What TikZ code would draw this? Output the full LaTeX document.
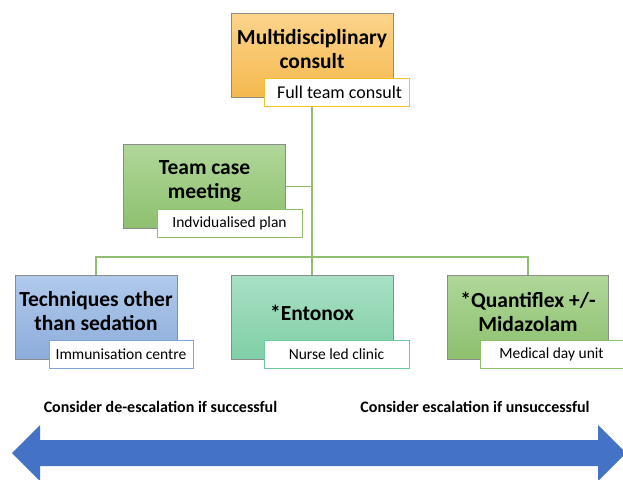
\documentclass[tikz,border=0pt]{standalone}
\usepackage{fontspec}
\setmainfont{Carlito}
\definecolor{orangetop}{HTML}{FCD48C}
\definecolor{orangebot}{HTML}{F5B94E}
\definecolor{greentop}{HTML}{B0D79A}
\definecolor{greenbot}{HTML}{8DC06E}
\definecolor{bluetop}{HTML}{B1CAEC}
\definecolor{bluebot}{HTML}{8DACDA}
\definecolor{tealtop}{HTML}{A8E0C5}
\definecolor{tealbot}{HTML}{80CFA6}
\definecolor{yellowline}{HTML}{F2C12E}
\definecolor{greenline}{HTML}{8DC06B}
\definecolor{blueline}{HTML}{7EA6D6}
\definecolor{tealline}{HTML}{6CCB9E}
\definecolor{linkgreen}{HTML}{8FBF6C}
\definecolor{arrowblue}{HTML}{4472C4}
\begin{document}
\begin{tikzpicture}[x=1pt,y=-1pt,
    box/.style={draw=black!45, minimum width=162pt, minimum height=84pt, inner sep=0pt},
    title/.style={font=\fontsize{21.5}{24}\selectfont\bfseries, align=center},
    tag/.style={fill=white, line width=1pt, minimum width=145pt, minimum height=28pt,
      inner sep=0pt, font=\fontsize{15.5}{18}\selectfont},
    note/.style={font=\fontsize{16}{18}\selectfont\bfseries},
    link/.style={draw=linkgreen, line width=1.3pt}]
  \useasboundingbox (0,0) rectangle (623,479);
  % boxes
  \node[box, top color=orangetop, bottom color=orangebot] (multi) at (312,55) {};
  \node[title] (multitxt) at ([yshift=6pt]multi.center) {Multidisciplinary\\consult};
  \node[tag, draw=yellowline, font=\fontsize{18}{20}\selectfont] (full) at (336.5,92) {\hspace{6pt}Full team consult};

  \node[box, top color=greentop, bottom color=greenbot] (team) at (204.5,186.5) {};
  \node[title] (teamtxt) at ([yshift=5pt]team.center) {Team case\\meeting};
  \node[tag, draw=greenline] (indiv) at (229.5,223) {Indvidualised plan};

  \node[box, top color=bluetop, bottom color=bluebot] (tech) at (96,317) {};
  \node[title] (techtxt) at ([yshift=6pt]tech.center) {Techniques other\\than sedation};
  \node[tag, draw=blueline, minimum width=144pt] (immun) at (121,354) {Immunisation centre};

  \node[box, top color=tealtop, bottom color=tealbot] (ento) at (312,317) {};
  \node[title] (entotxt) at ([yshift=4pt]ento.center) {*Entonox};
  \node[tag, draw=tealline] (nurse) at (336.5,354) {Nurse led clinic};

  \node[box, top color=greentop, bottom color=greenbot, minimum width=161pt] (quanti) at (528,317) {};
  \node[title] (quantitxt) at ([yshift=5pt]quanti.center) {*Quantiflex +/-\\Midazolam};
  \node[tag, draw=greenline, minimum width=143pt] (medical) at (551.5,354.5) {Medical day unit};

  % links
  \coordinate (hub) at (312,257);
  \draw[link] (multi.south |- full.south) -- (hub);
  \draw[link] (team.east) -- (team.east -| hub);
  \draw[link] (tech.north) |- (hub) -| (quanti.north);
  \draw[link] (hub) -- (ento.north);

  % escalation
  \node[note] (deesc) at (160.5,407) {Consider de-escalation if successful};
  \node[note] (esc) at (475,407) {Consider escalation if unsuccessful};
  \fill[arrowblue] (12,453) -- (40,425) -- (40,440) -- (598,440) -- (598,425) -- (626,453)
    -- (598,481) -- (598,466) -- (40,466) -- (40,481) -- cycle;
\end{tikzpicture}
\end{document}
